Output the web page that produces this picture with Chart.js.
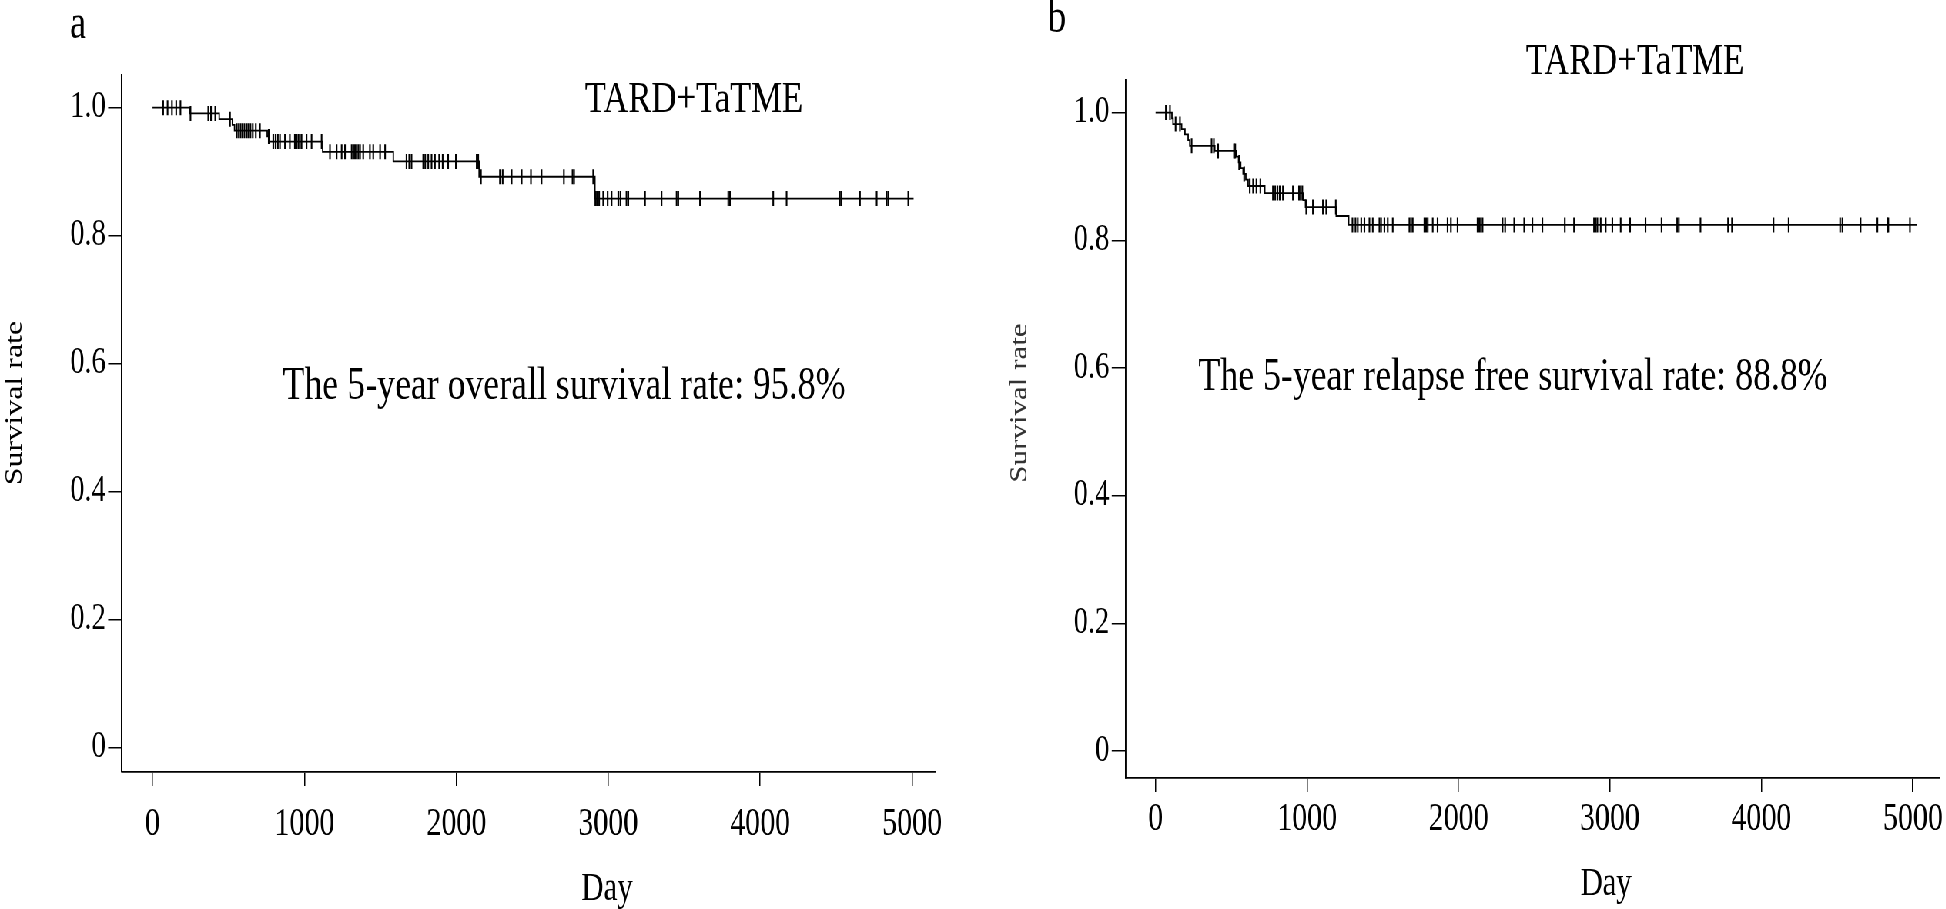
<!DOCTYPE html>
<html>
<head>
<meta charset="utf-8">
<script src="https://cdn.jsdelivr.net/npm/chart.js@4.4.0/dist/chart.umd.min.js"></script>
<style>
    html, body { margin: 0; padding: 0; background: #fff; overflow: hidden; }
    /* the original figure is squeezed horizontally, so the charts are drawn wide and scaled down */
    #wrap { position: absolute; left: 0; top: 0; width: 2528px; height: 909px; transform: scaleX(0.77); transform-origin: 0 0; }
    #wrap canvas { position: absolute; top: 0; }
    #osChart { left: 0; }
    #rfsChart { left: 1264px; }
</style>
</head>
<body>
<div id="wrap">
    <canvas id="osChart" width="1264" height="909"></canvas>
    <canvas id="rfsChart" width="1264" height="909"></canvas>
</div>
<script>
const dayTicks = [0, 1000, 2000, 3000, 4000, 5000];
const rateTicks = [0, 0.2, 0.4, 0.6, 0.8, 1.0];

// a: overall survival
const osEventDays = [0, 246, 439, 526, 540, 755, 770, 1120, 1585, 2150, 2912];
const osSurvival = [1.0, 0.991, 0.982, 0.973, 0.964, 0.955, 0.947, 0.931, 0.916, 0.892, 0.858];
const osLastDay = 5010;
const osCensorDays = [70, 99, 128, 156, 184, 250, 367, 385, 413, 510, 555, 568, 580, 592, 605, 618, 630, 645, 660, 680, 707,
    765, 795, 810, 825, 839, 872, 904, 937, 948, 960, 970, 981, 1014, 1047, 1113, 1168, 1212, 1245, 1267, 1311, 1322, 1333,
    1344, 1355, 1366, 1387, 1431, 1453, 1498, 1531, 1672, 1690, 1705, 1782, 1795, 1815, 1837, 1859, 1887, 1910, 1946, 1997,
    2134, 2144, 2162, 2287, 2305, 2364, 2430, 2491, 2561, 2708, 2765, 2775, 2901, 2915, 2925, 2940, 2967, 2996, 3022, 3066,
    3080, 3120, 3132, 3242, 3351, 3450, 3461, 3604, 3790, 3801, 4086, 4174, 4525, 4536, 4657, 4767, 4832, 4843, 4975];

// b: relapse free survival
const rfsEventDays = [0, 108, 115, 172, 194, 215, 226, 391, 534, 548, 562, 578, 596, 611, 721, 975, 990, 1193, 1275];
const rfsSurvival = [1.0, 0.991, 0.982, 0.974, 0.966, 0.957, 0.948, 0.940, 0.931, 0.922, 0.913, 0.904, 0.895, 0.885,
    0.874, 0.863, 0.852, 0.838, 0.824];
const rfsLastDay = 5025;
const rfsCensorDays = [68, 95, 132, 161, 238, 370, 385, 413, 518, 526, 552, 585, 622, 644, 666, 692, 775, 790, 805, 820, 841,
    907, 947, 958, 969, 995, 1039, 1105, 1127, 1190, 1300, 1320, 1335, 1358, 1379, 1412, 1434, 1478, 1489, 1511, 1533, 1566,
    1676, 1687, 1698, 1775, 1786, 1797, 1830, 1862, 1928, 1950, 1994, 2126, 2137, 2148, 2159, 2291, 2308, 2368, 2434, 2488,
    2554, 2702, 2763, 2895, 2906, 2917, 2939, 2972, 3016, 3071, 3133, 3235, 3341, 3444, 3455, 3598, 3780, 3806, 4080, 4180,
    4520, 4535, 4655, 4766, 4832, 4838, 4981];

const SQUEEZE = 0.77;
const FONT = '"Liberation Serif", "Times New Roman", serif';

// page x -> canvas x
function cx(pageX, panelLeft) {
    return pageX / SQUEEZE - panelLeft;
}

function kmPoints(days, surv, lastDay) {
    const pts = days.map((d, i) => ({ x: d, y: surv[i] }));
    pts.push({ x: lastDay, y: surv[surv.length - 1] });
    return pts;
}

function survAt(days, surv, t) {
    let s = surv[0];
    for (let i = 0; i < days.length; i++) {
        if (days[i] <= t) s = surv[i];
    }
    return s;
}

function censorPoints(censor, days, surv) {
    return censor.map(t => ({ x: t, y: survAt(days, surv, t) }));
}

const panelText = {
    id: "panelText",
    afterDraw(chart, args, opts) {
        const ctx = chart.ctx;
        opts.items.forEach(t => {
            ctx.save();
            ctx.font = `${t.size}px ${FONT}`;
            ctx.fillStyle = t.color || "#000";
            ctx.textAlign = "center";
            ctx.textBaseline = "middle";
            ctx.translate(t.x, t.y);
            if (t.rotate) ctx.rotate(t.rotate);
            ctx.fillText(t.text, 0, 0);
            ctx.restore();
        });
    }
};

function criarPainel(id, panelLeft, km, censor, area, texts) {
    const ctx = document.getElementById(id).getContext("2d");
    const left = cx(area.left, panelLeft);
    const right = cx(area.right, panelLeft);

    return new Chart(ctx, {
        type: "scatter",
        data: {
            datasets: [
                {
                    type: "line",
                    data: km,
                    stepped: true,
                    showLine: true,
                    borderColor: "#000",
                    borderWidth: 1.8,
                    pointRadius: 0,
                    fill: false,
                },
                {
                    type: "scatter",
                    data: censor,
                    pointStyle: "line",
                    pointRotation: 90,
                    pointRadius: 7.5,
                    pointBorderColor: "#000",
                    pointBorderWidth: 2.1,
                    showLine: false,
                },
            ],
        },
        options: {
            responsive: false,
            animation: false,
            devicePixelRatio: 1,
            layout: {
                padding: { left: 0, top: area.top, right: 1264 - right, bottom: 0 },
            },
            plugins: {
                legend: { display: false },
                tooltip: { enabled: false },
                panelText: { items: texts },
            },
            scales: {
                x: {
                    type: "linear",
                    min: area.xMin,
                    max: area.xMax,
                    afterBuildTicks: axis => { axis.ticks = dayTicks.map(v => ({ value: v })); },
                    afterFit: axis => { axis.height = 909 - area.bottom; },
                    grid: { drawOnChartArea: false, drawTicks: true, tickLength: 14, color: "#000", lineWidth: 1.5 },
                    border: { display: true, color: "#000", width: 1.7 },
                    ticks: {
                        font: { family: FONT, size: 39 },
                        color: "#000",
                        padding: area.xPad,
                        maxRotation: 0,
                        autoSkip: false,
                        callback: v => String(v),
                    },
                },
                y: {
                    type: "linear",
                    min: area.yMin,
                    max: area.yMax,
                    afterBuildTicks: axis => { axis.ticks = rateTicks.map(v => ({ value: v })); },
                    afterFit: axis => { axis.width = left; },
                    grid: { drawOnChartArea: false, drawTicks: true, tickLength: 18, color: "#000", lineWidth: 1.5 },
                    border: { display: true, color: "#000", width: 1.9 },
                    ticks: {
                        font: { family: FONT, size: 37 },
                        color: "#000",
                        padding: 3,
                        autoSkip: false,
                        callback: v => (v === 0 ? "0" : v.toFixed(1)),
                    },
                },
            },
        },
        plugins: [panelText],
    });
}

const leftOffset = 0;
const rightOffset = 1264;

criarPainel("osChart", leftOffset,
    kmPoints(osEventDays, osSurvival, osLastDay),
    censorPoints(osCensorDays, osEventDays, osSurvival),
    { left: 122, right: 935, top: 75, bottom: 772, xMin: -201, xMax: 5151, yMin: -0.038, yMax: 1.051, xPad: 15 },
    [
        { text: "a", x: cx(78, leftOffset), y: 25, size: 48 },
        { text: "TARD+TaTME", x: cx(694, leftOffset), y: 100, size: 45 },
        { text: "The 5-year overall survival rate: 95.8%", x: cx(564, leftOffset), y: 387, size: 46.5 },
        { text: "Survival rate", x: cx(15, leftOffset), y: 403, size: 32, rotate: -Math.PI / 2 },
        { text: "Day", x: cx(607, leftOffset), y: 889, size: 40 },
    ]);

criarPainel("rfsChart", rightOffset,
    kmPoints(rfsEventDays, rfsSurvival, rfsLastDay),
    censorPoints(rfsCensorDays, rfsEventDays, rfsSurvival),
    { left: 1125.6, right: 1941, top: 80, bottom: 778, xMin: -198, xMax: 5174, yMin: -0.042, yMax: 1.051, xPad: 4 },
    [
        { text: "b", x: cx(1057, rightOffset), y: 19, size: 48 },
        { text: "TARD+TaTME", x: cx(1635, rightOffset), y: 62, size: 45 },
        { text: "The 5-year relapse free survival rate: 88.8%", x: cx(1513, rightOffset), y: 378, size: 46.5 },
        { text: "Survival rate", x: cx(1020, rightOffset), y: 403, size: 31, color: "#333", rotate: -Math.PI / 2 },
        { text: "Day", x: cx(1606, rightOffset), y: 884, size: 40 },
    ]);
</script>
</body>
</html>
